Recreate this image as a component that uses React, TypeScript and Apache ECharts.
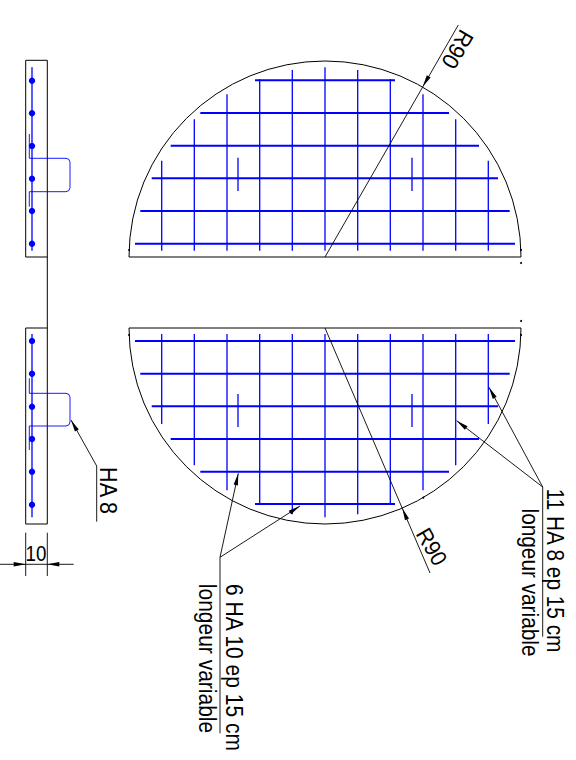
import React, { useEffect, useRef } from "react";
import * as echarts from "echarts";

// Drawing, in the chart's own drawing units
const halfCircles = [
  [325, 257, 196, 180, 360],
  [325, 328, 196, 0, 180],
];
const outline = [
  [129, 257, 521, 257], [129, 328, 521, 328],
  [25.7, 60.3, 47.3, 60.3], [25.7, 257, 47.3, 257], [25.7, 60.3, 25.7, 257],
  [47.3, 60.3, 47.3, 524], [25.7, 328, 47.3, 328], [25.7, 524, 47.3, 524], [25.7, 328, 25.7, 524],
];
const barStarts = [135, 140.3, 151.7, 170.7, 200.3, 255];
const barEnds = [515, 509.7, 498, 479, 449, 395];
const barRowsTop = [243.7, 211, 178.3, 145.7, 113, 80.3];
const barRowsBottom = [341, 373.7, 406.3, 439, 471.7, 504];
const columnX = [161.7, 194.3, 227, 259.7, 292.3, 325, 357.7, 390.3, 423, 455.7, 488.3];
const columnTops = [160.7, 119.3, 94.3, 79, 70, 67.3, 70, 79, 94.3, 119.3, 160.7];
const columnBottoms = [424, 465.3, 490.3, 504, 514.3, 517.3, 514.3, 504, 490.3, 465.3, 424];
const shortBars = [
  [238, 157.7, 238, 191], [412, 157.7, 412, 191],
  [238, 394, 238, 427], [412, 394, 412, 427],
];
const sectionBars = [[32, 67.3, 32, 250.7], [32, 334, 32, 517.3]];
const sectionDotsTop = [80.7, 113.3, 146, 178.7, 211, 243.7];
const sectionDotsBottom = [341, 373.7, 406.7, 439, 471.7, 504.7];
const hairpinTop = [
  [29.3, 134], [29.3, 158.3], [66, 158.3], [68.9, 159.4], [70, 162.3],
  [70, 187.7], [68.9, 190.6], [66, 191.7], [29.3, 191.7], [29.3, 206.7],
];
const hairpinBottom = [
  [29.3, 378.3], [29.3, 393.3], [66, 393.3], [68.9, 394.4], [70, 397.3],
  [70, 422], [68.9, 424.9], [66, 426], [29.3, 426], [29.3, 450],
];
const leaders = [
  [325, 257, 458.3, 25],
  [325, 328, 430, 573],
  [96.7, 466, 71, 420], [96.7, 466, 96.7, 521.7],
  [25.7, 532.7, 25.7, 576], [47.3, 532.7, 47.3, 576], [0, 564.3, 73.7, 564.3],
  [220, 557.3, 238.3, 473.3], [220, 557.3, 300, 506], [220, 557.3, 220, 733.3],
  [542.7, 487, 489, 387.3], [542.7, 487, 456.7, 420.7], [542.7, 487, 542.7, 636.7],
];
// tip x, tip y, then a point further along the shaft
const arrowHeads = [
  [422.7, 86.7, 458.3, 25],
  [402.3, 508.3, 430, 573],
  [71, 420, 96.7, 466],
  [25.7, 564.3, 0, 564.3],
  [47.3, 564.3, 73.7, 564.3],
  [238.3, 473.3, 220, 557.3],
  [300, 506, 220, 557.3],
  [489, 387.3, 542.7, 487],
  [456.7, 420.7, 542.7, 487],
];
const endMarks = [
  [129, 250], [521, 250], [521, 263], [521, 321], [129, 335], [521, 335], [423.3, 497.7],
];
const labels = ["R90", "R90", "HA 8", "10", "6 HA 10 ep 15 cm", "longeur variable", "11 HA 8 ep 15 cm", "longeur variable"];
const labelPlaces = [
  [457.3, 49.3, -120, 1.05, 1.1],
  [431.7, 546.7, -60, 1.02, 1.08],
  [107.5, 490.5, -90, 1.04, 1.13],
  [36, 554, 0, 0.9, 1.02],
  [233.8, 667.5, -90, 1.01, 1.16],
  [207, 658.5, -90, 1.01, 1.16],
  [555, 570.5, -90, 1, 1.16],
  [530.5, 582.5, -90, 1, 1.16],
];

const BLUE = "#0000ff";
const INK = "#000000";
const FONT = "'Liberation Sans', Arial, sans-serif";

const hBars = [...barRowsTop, ...barRowsBottom].map((y, i) => [barStarts[i % 6], y, barEnds[i % 6], y]);
const vBars = [
  ...columnX.map((x, i) => [x, columnTops[i], x, 250.7]),
  ...columnX.map((x, i) => [x, 334, x, columnBottoms[i]]),
  ...shortBars,
];

function segmentSeries(name: string, data: number[][], color: string, width: number) {
  return {
    type: "custom",
    name,
    coordinateSystem: "cartesian2d",
    clip: false,
    silent: true,
    data,
    renderItem: (_: any, api: any) => {
      const a = api.coord([api.value(0), api.value(1)]);
      const b = api.coord([api.value(2), api.value(3)]);
      return {
        type: "line",
        shape: { x1: a[0], y1: a[1], x2: b[0], y2: b[1] },
        style: { stroke: color, lineWidth: width, fill: "none" },
      };
    },
  };
}

function hairpin(name: string, data: number[][]) {
  return {
    type: "line",
    name,
    data,
    showSymbol: false,
    silent: true,
    clip: false,
    lineStyle: { color: BLUE, width: 1, opacity: 0.9 },
  };
}

function dots(name: string, data: number[][], color: string, size: number) {
  return { type: "scatter", name, data, symbolSize: size, silent: true, itemStyle: { color, opacity: 1 } };
}

export default function App() {
  const ref = useRef<HTMLDivElement>(null);
  useEffect(() => {
    const chart = echarts.init(ref.current!, null, { renderer: "svg" });
    chart.setOption({
      animation: false,
      backgroundColor: "#ffffff",
      grid: { left: 0, right: 0, top: 0, bottom: 0 },
      xAxis: { type: "value", min: 0, max: 576, show: false },
      yAxis: { type: "value", min: 0, max: 760, inverse: true, show: false },
      series: [
        segmentSeries("vertical bars", vBars, BLUE, 1.3),
        segmentSeries("horizontal bars", hBars, BLUE, 2),
        segmentSeries("section bars", sectionBars, BLUE, 1.3),
        hairpin("hairpin top", hairpinTop),
        hairpin("hairpin bottom", hairpinBottom),
        dots("section dots", [...sectionDotsTop, ...sectionDotsBottom].map((y) => [32, y]), BLUE, 6.4),
        segmentSeries("outline", outline, INK, 1),
        segmentSeries("leaders", leaders, INK, 0.9),
        dots("marks", endMarks, INK, 2),
        {
          type: "custom",
          name: "arcs",
          coordinateSystem: "cartesian2d",
          clip: false,
          silent: true,
          data: halfCircles,
          renderItem: (_: any, api: any) => {
            const c = api.coord([api.value(0), api.value(1)]);
            const r = api.size([api.value(2), 0])[0];
            return {
              type: "arc",
              shape: {
                cx: c[0], cy: c[1], r,
                startAngle: (api.value(3) * Math.PI) / 180,
                endAngle: (api.value(4) * Math.PI) / 180,
                clockwise: true,
              },
              style: { stroke: INK, lineWidth: 1, fill: "none" },
            };
          },
        },
        {
          type: "custom",
          name: "arrows",
          coordinateSystem: "cartesian2d",
          clip: false,
          silent: true,
          data: arrowHeads,
          renderItem: (_: any, api: any) => {
            const t = api.coord([api.value(0), api.value(1)]);
            const s = api.coord([api.value(2), api.value(3)]);
            const d = Math.hypot(s[0] - t[0], s[1] - t[1]) || 1;
            const ux = (s[0] - t[0]) / d;
            const uy = (s[1] - t[1]) / d;
            const L = 12;
            const W = 2.2;
            return {
              type: "polygon",
              shape: {
                points: [
                  [t[0], t[1]],
                  [t[0] + ux * L - uy * W, t[1] + uy * L + ux * W],
                  [t[0] + ux * L + uy * W, t[1] + uy * L - ux * W],
                ],
              },
              style: { fill: INK },
            };
          },
        },
        {
          type: "custom",
          name: "labels",
          coordinateSystem: "cartesian2d",
          clip: false,
          silent: true,
          data: labelPlaces,
          renderItem: (p: any, api: any) => {
            const c = api.coord([api.value(0), api.value(1)]);
            return {
              type: "text",
              x: c[0],
              y: c[1],
              rotation: (api.value(2) * Math.PI) / 180,
              scaleX: api.value(3),
              scaleY: api.value(4),
              style: {
                text: labels[p.dataIndex],
                x: 0,
                y: 0,
                align: "center",
                verticalAlign: "middle",
                fontFamily: FONT,
                fontSize: 20.8,
                fill: INK,
              },
            };
          },
        },
      ],
    });
    return () => chart.dispose();
  }, []);
  return (
    <div
      ref={ref}
      style={{ position: "absolute", left: 0, top: 0, width: 576, height: 760 }}
    />
  );
}
